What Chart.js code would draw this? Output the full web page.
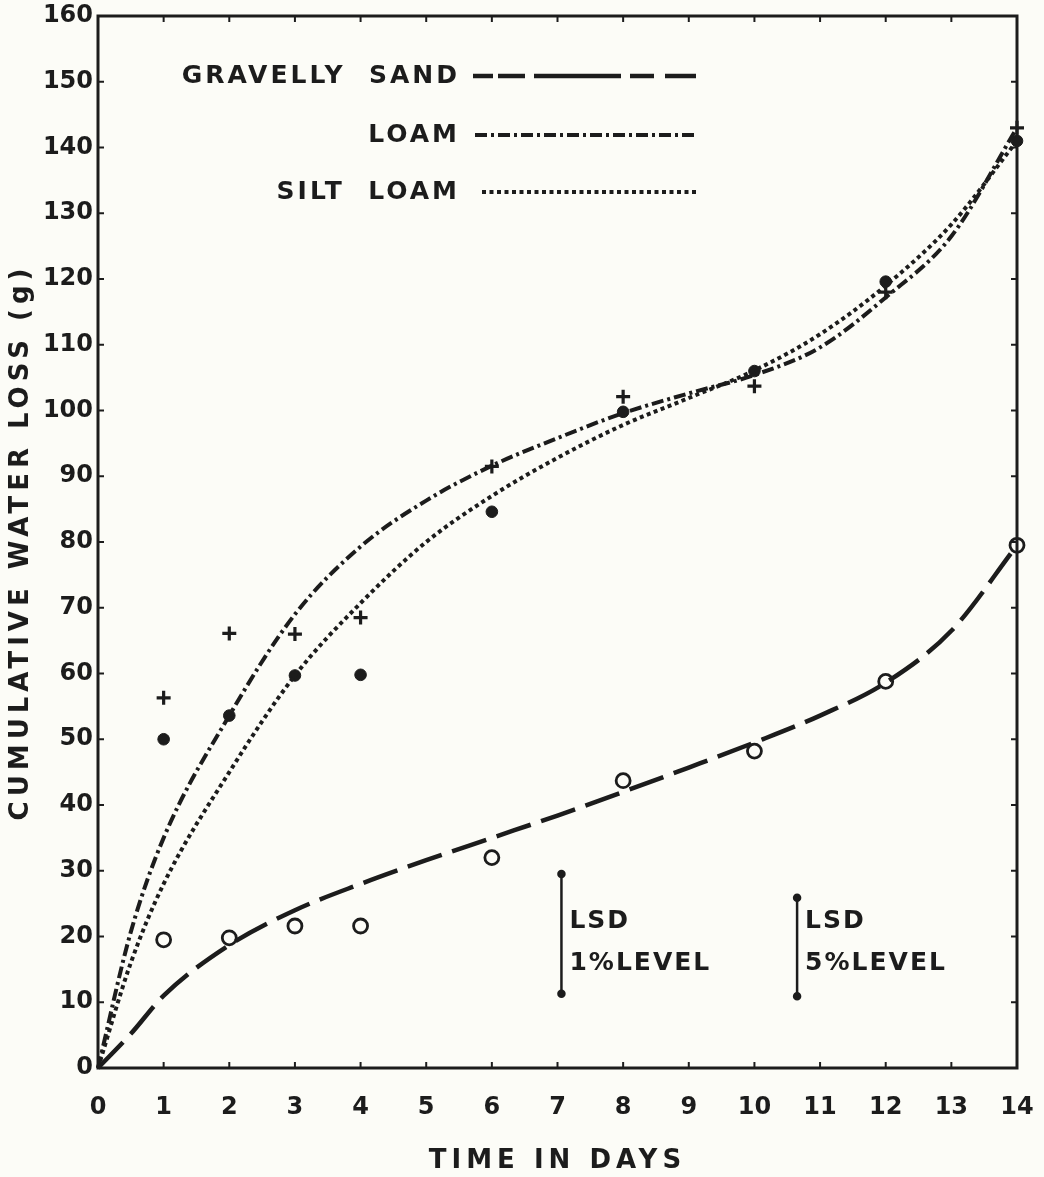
<!DOCTYPE html>
<html><head><meta charset="utf-8">
<script src="https://cdn.jsdelivr.net/npm/chart.js@4.4.1/dist/chart.umd.min.js"></script>
<style>html,body{margin:0;padding:0;background:#fcfcf7;}canvas{display:block;}</style>
</head><body>
<canvas id="c" width="1044" height="1177"></canvas>
<script>
// ---- data ----
const obsDays = [1, 2, 3, 4, 6, 8, 10, 12, 14];
const gravellySandObs = [19.5, 19.8, 21.6, 21.6, 32, 43.7, 48.2, 58.8, 79.5];
const loamObs = [56.3, 66.1, 66, 68.5, 91.5, 102.1, 103.7, 118, 143];
const siltLoamObs = [50, 53.6, 59.7, 59.8, 84.6, 99.8, 106, 119.6, 141];

const curveDays = [0, 0.5, 1, 2, 3, 4, 5, 6, 7, 8, 9, 10, 11, 12, 13, 14];
const gravellySandCurve = [0, 5.2, 11, 18.7, 24, 28, 31.6, 35, 38.4, 42, 45.7, 49.5, 53.6, 58.6, 66.5, 79.5];
const loamCurve = [0, 20.7, 35, 53.6, 69, 79.3, 86.3, 91.6, 95.8, 99.6, 102.6, 105.4, 109.6, 117.2, 126.5, 143];
const siltLoamCurve = [0, 16, 28, 45, 59.7, 70.7, 80, 87, 92.8, 97.8, 101.9, 106.1, 111.6, 119, 128.3, 141];

const seriesNames = ['GRAVELLY SAND', 'LOAM', 'SILT LOAM'];
const xTickValues = [0, 1, 2, 3, 4, 5, 6, 7, 8, 9, 10, 11, 12, 13, 14];
const yTickValues = [0, 10, 20, 30, 40, 50, 60, 70, 80, 90, 100, 110, 120, 130, 140, 150, 160];

const lsdLabels = ['1%LEVEL', '5%LEVEL'];
const lsdX = [7.06, 10.65];
const lsdLow = [11.3, 10.9];
const lsdHigh = [29.5, 25.9];

// ---- styling ----
const INK = '#1c1c1c';
const BG = '#fcfcf7';
const FONT = '"DejaVu Sans", sans-serif';
const dashes = { sand: [36, 11], loam: [12, 4, 3, 4], silt: [4, 3.5] };
const legendDashes = { sand: [20, 5, 27, 9, 87, 9, 24, 11, 31, 100], loam: [12, 4, 3, 4], silt: [4, 3.5] };

const pts = (xs, ys) => xs.map((x, i) => ({ x: x, y: ys[i] }));

const datasets = [
  { label: seriesNames[0], data: pts(curveDays, gravellySandCurve), showLine: true, borderColor: INK, borderWidth: 4.5,
    borderDash: dashes.sand, pointRadius: 0, cubicInterpolationMode: 'monotone', fill: false, clip: false },
  { label: seriesNames[1], data: pts(curveDays, loamCurve), showLine: true, borderColor: INK, borderWidth: 4,
    borderDash: dashes.loam, pointRadius: 0, cubicInterpolationMode: 'monotone', fill: false, clip: false },
  { label: seriesNames[2], data: pts(curveDays, siltLoamCurve), showLine: true, borderColor: INK, borderWidth: 4,
    borderDash: dashes.silt, pointRadius: 0, cubicInterpolationMode: 'monotone', fill: false, clip: false },
  { label: seriesNames[0] + ' obs', data: pts(obsDays, gravellySandObs), showLine: false, pointStyle: 'circle',
    pointRadius: 7, pointBorderWidth: 2.8, pointBorderColor: INK, pointBackgroundColor: 'rgba(0,0,0,0)', clip: false },
  { label: seriesNames[1] + ' obs', data: pts(obsDays, loamObs), showLine: false, pointStyle: 'cross',
    pointRadius: 7, pointBorderWidth: 3.2, pointBorderColor: INK, pointBackgroundColor: INK, clip: false },
  { label: seriesNames[2] + ' obs', data: pts(obsDays, siltLoamObs), showLine: false, pointStyle: 'circle',
    pointRadius: 5.8, pointBorderWidth: 1, pointBorderColor: INK, pointBackgroundColor: INK, clip: false }
];
lsdLabels.forEach((lab, i) => {
  datasets.push({ label: 'LSD ' + lab, data: [{ x: lsdX[i], y: lsdLow[i] }, { x: lsdX[i], y: lsdHigh[i] }],
    showLine: true, borderColor: INK, borderWidth: 2.5, pointRadius: 3, pointBackgroundColor: INK,
    pointBorderColor: INK, clip: false });
});

const decor = {
  id: 'decor',
  beforeDraw(chart) {
    const ctx = chart.ctx;
    ctx.save();
    ctx.fillStyle = BG;
    ctx.fillRect(0, 0, chart.width, chart.height);
    ctx.restore();
    ctx.letterSpacing = '5px'; // axis titles
  },
  afterDatasetsDraw(chart) {
    chart.ctx.letterSpacing = '0px'; // tick labels
  },
  afterDraw(chart) {
    const ctx = chart.ctx;
    const { left, right, top, bottom } = chart.chartArea;
    const xs = chart.scales.x, ys = chart.scales.y;
    ctx.save();
    ctx.letterSpacing = '0px';
    ctx.strokeStyle = INK;
    ctx.lineWidth = 3;
    ctx.strokeRect(left, top, right - left, bottom - top);
    ctx.lineWidth = 2;
    ctx.beginPath();
    xTickValues.forEach(v => {
      const px = xs.getPixelForValue(v);
      ctx.moveTo(px, bottom); ctx.lineTo(px, bottom - 6);
      ctx.moveTo(px, top); ctx.lineTo(px, top + 6);
    });
    yTickValues.forEach(v => {
      const py = ys.getPixelForValue(v);
      ctx.moveTo(left, py); ctx.lineTo(left + 6, py);
      ctx.moveTo(right, py); ctx.lineTo(right - 6, py);
    });
    ctx.stroke();

    // legend
    const rows = [
      { name: seriesNames[0], y: 76, dash: legendDashes.sand, w: 4.5, x0: 473 },
      { name: seriesNames[1], y: 135, dash: legendDashes.loam, w: 4, x0: 475 },
      { name: seriesNames[2], y: 192, dash: legendDashes.silt, w: 4, x0: 482 }
    ];
    ctx.fillStyle = INK;
    ctx.font = 'bold 25px ' + FONT;
    ctx.textAlign = 'right';
    ctx.textBaseline = 'middle';
    ctx.letterSpacing = '3px';
    rows.forEach(r => {
      ctx.fillText(r.name.replace(' ', '  '), 460, r.y);
      ctx.save();
      ctx.setLineDash(r.dash);
      ctx.lineWidth = r.w;
      ctx.beginPath();
      ctx.moveTo(r.x0, r.y); ctx.lineTo(696, r.y);
      ctx.stroke();
      ctx.restore();
    });

    // LSD labels
    ctx.font = 'bold 25px ' + FONT;
    ctx.textAlign = 'left';
    ctx.letterSpacing = '2px';
    lsdLabels.forEach((lab, i) => {
      const px = xs.getPixelForValue(lsdX[i]) + 8;
      ctx.fillText('LSD', px, 921);
      ctx.fillText(lab, px, 963);
    });
    ctx.restore();
  }
};

new Chart(document.getElementById('c'), {
  type: 'scatter',
  data: { datasets: datasets },
  options: {
    responsive: false,
    animation: false,
    layout: { padding: { top: 16, right: 27, left: 0, bottom: 0 } },
    plugins: { legend: { display: false }, tooltip: { enabled: false } },
    scales: {
      x: {
        type: 'linear', min: 0, max: 14,
        afterBuildTicks: s => { s.ticks = xTickValues.map(v => ({ value: v })); },
        ticks: { color: INK, font: { family: FONT, size: 24, weight: 'bold' }, padding: 25, z: 1, maxRotation: 0, autoSkip: false },
        grid: { display: false, drawTicks: false },
        border: { display: false },
        title: { display: true, text: 'TIME IN DAYS', color: INK, font: { family: FONT, size: 26, weight: 'bold' }, padding: { top: 0, bottom: 0 } },
        afterFit: s => { s.height = 109; s.paddingLeft = 0; s.paddingRight = 0; }
      },
      y: {
        type: 'linear', min: 0, max: 160,
        afterBuildTicks: s => { s.ticks = yTickValues.map(v => ({ value: v })); },
        ticks: { color: INK, font: { family: FONT, size: 24, weight: 'bold' }, padding: 5, z: 1, autoSkip: false },
        grid: { display: false, drawTicks: false },
        border: { display: false },
        title: { display: true, text: 'CUMULATIVE WATER LOSS (g)', color: INK, font: { family: FONT, size: 26, weight: 'bold' }, padding: { top: 6, bottom: 2 } },
        afterFit: s => { s.width = 98; s.paddingTop = 0; s.paddingBottom = 0; }
      }
    }
  },
  plugins: [decor]
});
</script>
</body></html>
